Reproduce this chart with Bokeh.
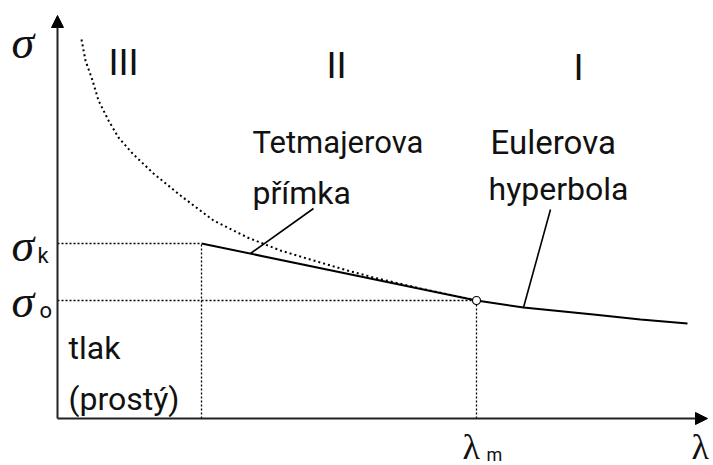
from bokeh.plotting import figure
from bokeh.models import Range1d, Label, Arrow, NormalHead
from bokeh.embed import file_html
from bokeh.resources import INLINE

# Euler hyperbola, slenderness λ vs. critical stress σ (drawing units)
lam_euler_dotted = [24, 28, 35, 41, 51, 61, 75, 96, 123, 156, 190, 223, 256, 290, 316, 363, 419]
sig_euler_dotted = [379, 358, 338, 318, 298, 281, 265, 245, 223, 198, 181, 168, 158, 148, 141, 130, 118]
lam_euler_solid = [419, 466, 536, 583, 630]
sig_euler_solid = [118, 111, 104, 99, 95]

# Tetmajer straight line between (λ at σk) and (λm, σo)
lam_tetmajer = [144, 419]
sig_tetmajer = [175, 118]

sigma_k = 175
sigma_o = 118
lambda_0 = 144
lambda_m = 419

LABEL_FONT = "Roboto"
GREEK_FONT = "Liberation Serif"

p = figure(width=713, height=465, output_backend="svg", toolbar_location=None,
           x_range=Range1d(-57, 656), y_range=Range1d(-47, 418),
           x_axis_location=None, y_axis_location=None, min_border=0)
p.grid.visible = False
p.outline_line_color = None
p.background_fill_color = "white"
p.border_fill_color = "white"

# guide lines (dotted)
dot = dict(line_color="black", line_width=1.3, line_dash="2 2")
p.line([0, lambda_0], [sigma_k, sigma_k], **dot)
p.line([lambda_0, lambda_0], [0, sigma_k], **dot)
p.line([0, lambda_m], [sigma_o, sigma_o], **dot)
p.line([lambda_m, lambda_m], [0, sigma_o], **dot)

# Euler hyperbola: dotted where not valid, solid in region I
p.line(lam_euler_dotted, sig_euler_dotted, line_color="black", line_width=2, line_dash="2 3")
p.line(lam_euler_solid, sig_euler_solid, line_color="black", line_width=2)

# Tetmajer line
p.line(lam_tetmajer, sig_tetmajer, line_color="black", line_width=2)

# point at λm
p.scatter([lambda_m], [sigma_o], size=8, marker="circle", fill_color="white",
          line_color="black", line_width=1.2)

# leader lines for the captions
p.line([256, 193], [210, 165], line_color="black", line_width=1.6)
p.line([493, 466], [209, 111], line_color="black", line_width=1.6)

# axes with arrow heads
p.add_layout(Arrow(end=NormalHead(size=12, fill_color="black", line_color="black"),
                   x_start=0, y_start=0, x_end=0, y_end=403,
                   line_color="#222222", line_width=2))
p.add_layout(Arrow(end=NormalHead(size=12, fill_color="black", line_color="black"),
                   x_start=0, y_start=0, x_end=650, y_end=0,
                   line_color="#222222", line_width=2))


def lab(x, y, text, font=LABEL_FONT, size=32, style="normal", align="left"):
    p.add_layout(Label(x=x, y=y, text=text, text_font=font, text_font_size=f"{size}px",
                       text_font_style=style, text_align=align,
                       text_baseline="alphabetic", text_color="#111111"))


lab(195, 276, "Tetmajerova", size=31)
lab(195, 226, "přímka")
lab(433, 276, "Eulerova", size=33)
lab(431, 230, "hyperbola")
lab(11, 71, "tlak")
lab(11, 20, "(prostý)")

lab(66, 356, "III", size=37, align="center")
lab(279, 353, "II", size=37, align="center")
lab(521, 351, "I", size=37, align="center")

lab(-46, 376, "σ", font=GREEK_FONT, size=46, style="italic")
lab(-46, 173, "σ", font=GREEK_FONT, size=46, style="italic")
lab(-20, 163, "k", size=22)
lab(-46, 117, "σ", font=GREEK_FONT, size=46, style="italic")
lab(-18, 108, "o", size=22)
lab(405, -28, "λ", font=GREEK_FONT, size=36)
lab(429, -36, "m", size=18)
lab(634, -28, "λ", font=GREEK_FONT, size=36)

open("out.html", "w").write(file_html(p, INLINE))
